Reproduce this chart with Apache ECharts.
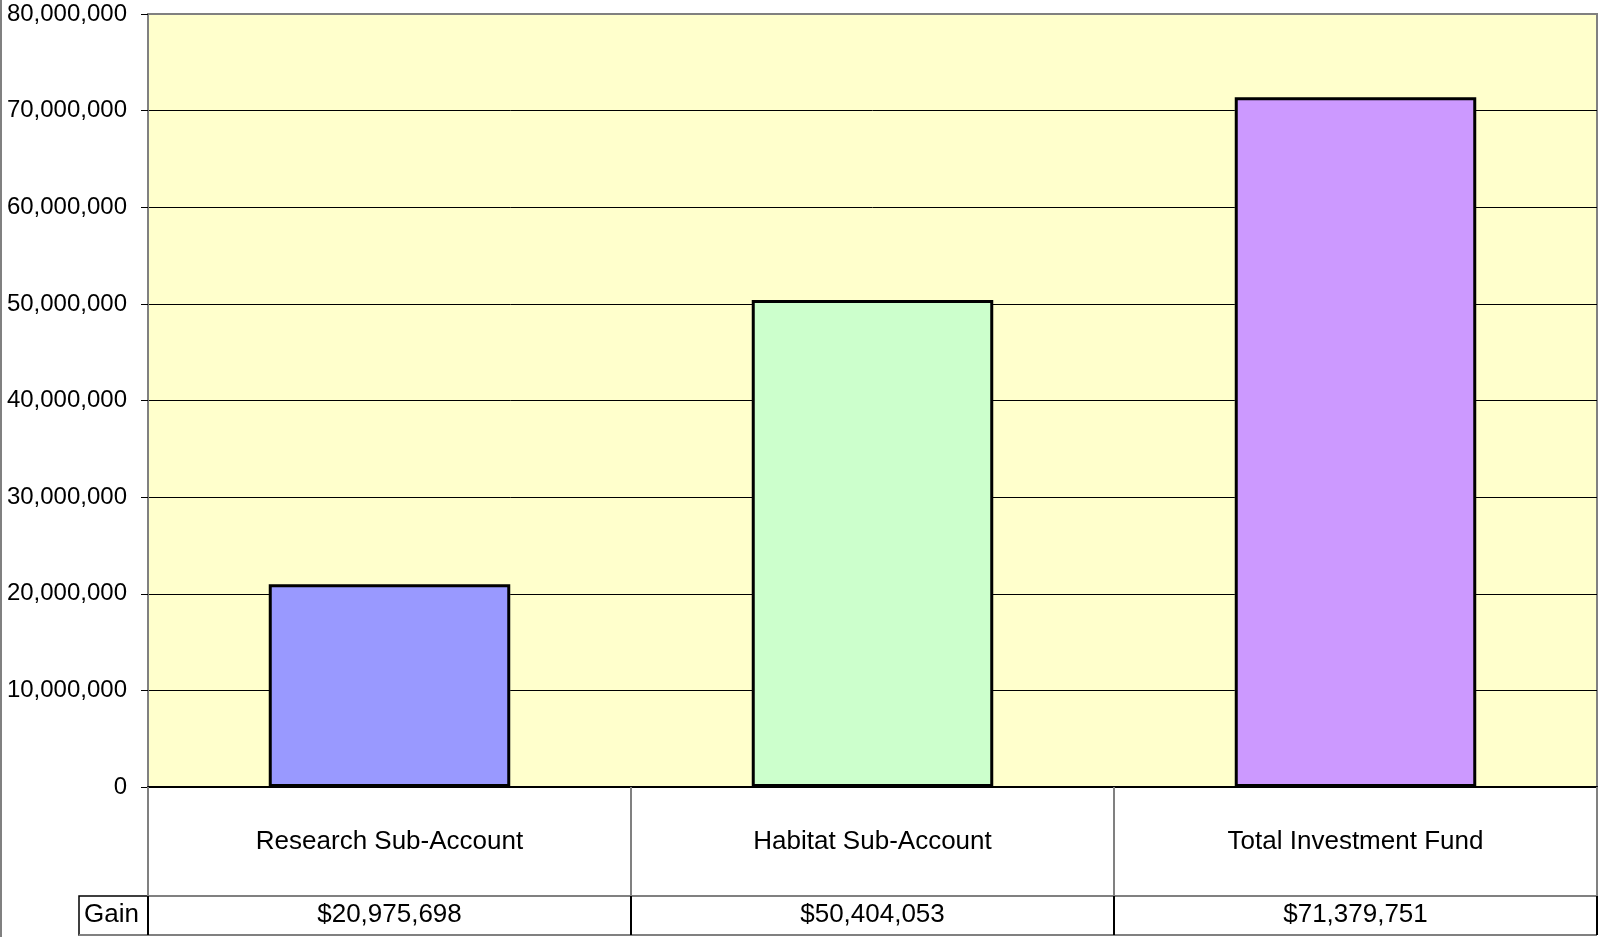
<!DOCTYPE html>
<html>
<head>
<meta charset="utf-8">
<script src="https://cdn.jsdelivr.net/npm/echarts@6/dist/echarts.min.js"></script>
<style>
html,body{margin:0;padding:0;background:#fff;}
#chart{width:1599px;height:937px;}
</style>
</head>
<body>
<div id="chart"></div>
<script>
const categories = ['Research Sub-Account', 'Habitat Sub-Account', 'Total Investment Fund'];
const gainValues = [20975698, 50404053, 71379751];
const barColors = ['#9999FF', '#CCFFCC', '#CC99FF'];
const rowLabel = 'Gain';
const yTicks = { min: 0, max: 80000000, interval: 10000000 };

const FONT = "'Liberation Sans', Arial, sans-serif";
const G = { left: 148, right: 2, top: 14, bottom: 150 };
const W = 1599, H = 937;
const zeroY = H - G.bottom;      // 787
const catRowH = 109;
const gainRowH = 39;

function fmt(n) { return n.toString().replace(/\B(?=(\d{3})+(?!\d))/g, ','); }

const chart = echarts.init(document.getElementById('chart'), null, { renderer: 'canvas' });
const splitColors = [];
for (let v = yTicks.min; v <= yTicks.max; v += yTicks.interval) {
  splitColors.push(v === yTicks.max ? '#808080' : '#000000');
}

chart.setOption({
  animation: false,
  backgroundColor: '#ffffff',
  grid: {
    left: G.left, right: G.right, top: G.top, bottom: G.bottom,
    show: true, backgroundColor: '#FFFFCC', borderColor: '#808080', borderWidth: 2
  },
  xAxis: [{
    type: 'category',
    data: categories,
    position: 'bottom',
    axisLine: { show: true, lineStyle: { color: '#000', width: 2 } },
    axisTick: { show: true, length: catRowH, lineStyle: { color: '#808080', width: 2 } },
    axisLabel: { color: '#000', fontFamily: FONT, fontSize: 26, margin: 42 },
    splitLine: { show: false }
  }, {
    type: 'category',
    data: categories,
    position: 'bottom',
    offset: catRowH,
    axisLine: { show: true, lineStyle: { color: '#808080', width: 2 } },
    axisTick: { show: true, length: gainRowH, lineStyle: { color: '#000', width: 2 } },
    axisLabel: {
      color: '#000', fontFamily: FONT, fontSize: 26, margin: 6,
      formatter: function (v, i) { return '$' + fmt(gainValues[i]); }
    },
    splitLine: { show: false }
  }],
  yAxis: {
    type: 'value',
    min: yTicks.min, max: yTicks.max, interval: yTicks.interval,
    axisLine: { show: true, lineStyle: { color: '#808080', width: 2 } },
    axisTick: { show: true, length: 7, lineStyle: { color: '#000', width: 1 } },
    axisLabel: { color: '#000', fontFamily: FONT, fontSize: 24, margin: 21, formatter: v => fmt(v) },
    splitLine: { show: true, lineStyle: { color: splitColors, width: 1 } }
  },
  series: [{
    type: 'bar',
    xAxisIndex: 0,
    barWidth: '50%',
    data: gainValues.map((v, i) => ({ value: v, itemStyle: { color: barColors[i] } })),
    itemStyle: { borderColor: '#000', borderWidth: 3 }
  }],
  graphic: [
    { type: 'line', shape: { x1: 1, y1: 0, x2: 1, y2: H }, style: { stroke: '#808080', lineWidth: 2 } },
    { type: 'rect', shape: { x: 79, y: zeroY + catRowH, width: G.left - 79, height: gainRowH },
      style: { fill: 'none', stroke: '#000', lineWidth: 1.5 } },
    { type: 'line', shape: { x1: 79, y1: zeroY + catRowH + gainRowH, x2: W - G.right, y2: zeroY + catRowH + gainRowH },
      style: { stroke: '#808080', lineWidth: 2 } },
    { type: 'text', left: 84, top: zeroY + catRowH + 6,
      style: { text: rowLabel, font: '26px ' + FONT, fill: '#000' } }
  ]
});
</script>
</body>
</html>
